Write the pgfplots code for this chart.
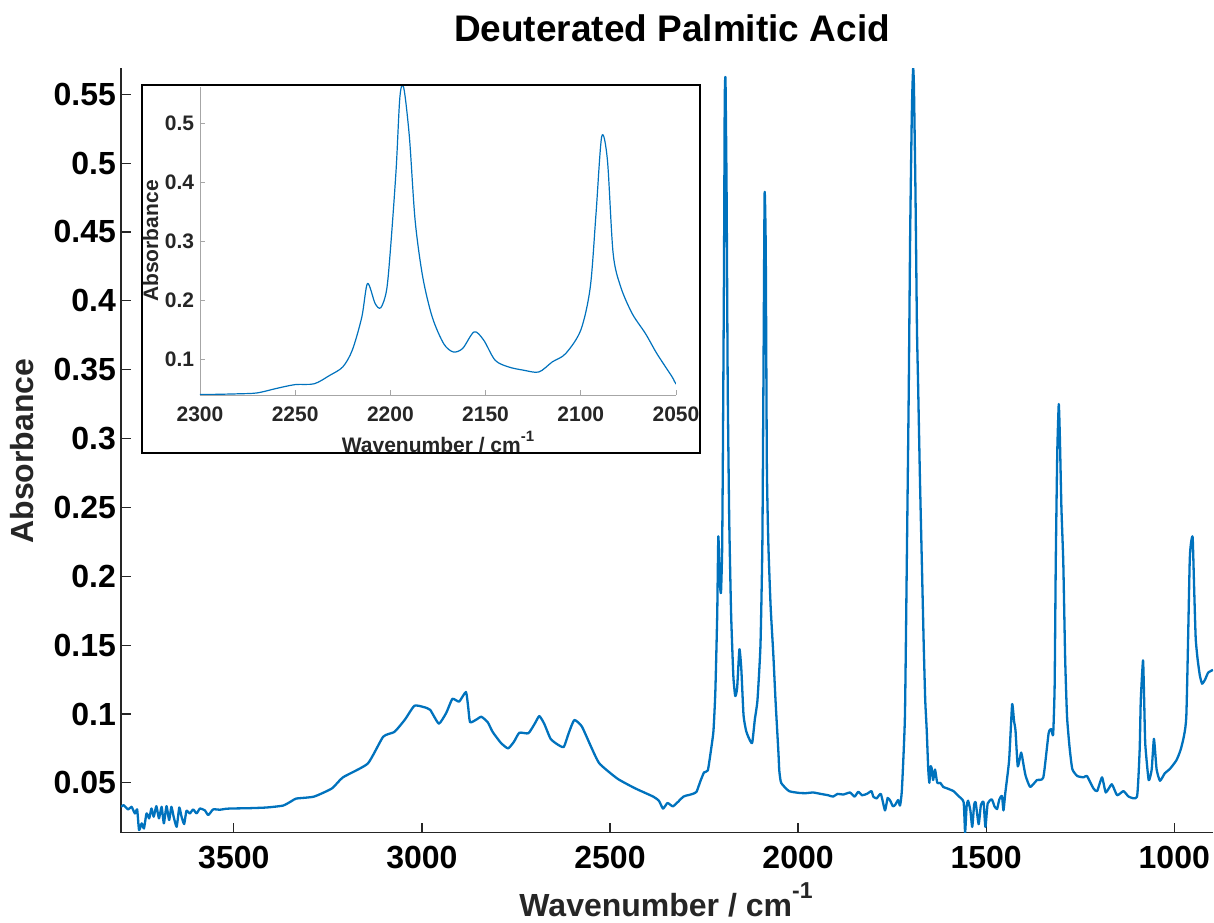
\documentclass[border=0pt]{standalone}
\usepackage{fontspec}
\setmainfont{Liberation Sans}
\usepackage{pgfplots}
\usepackage{pgfplotstable}
\pgfplotsset{compat=1.18}
\definecolor{mblue}{rgb}{0,0.447,0.741}
\definecolor{axgray}{rgb}{0.15,0.15,0.15}

% FTIR spectrum
\pgfplotstableread{
wn    ab
3800 0.0326
3793 0.0338
3781 0.0307
3772 0.0326
3763 0.0278
3757 0.0307
3752 0.0157
3745 0.0206
3739 0.0169
3732 0.0278
3725 0.0242
3719 0.0314
3713 0.0254
3706 0.0331
3699 0.0242
3692 0.0326
3686 0.0206
3679 0.0331
3672 0.0230
3666 0.0326
3660 0.0254
3652 0.0181
3645 0.0321
3639 0.0254
3632 0.0201
3626 0.0297
3617 0.0278
3608 0.0307
3599 0.0278
3590 0.0314
3577 0.0300
3568 0.0266
3555 0.0307
3537 0.0305
3520 0.0312
3502 0.0314
3460 0.0316
3413 0.0321
3369 0.0335
3345 0.0370
3334 0.0386
3287 0.0400
3239 0.0460
3210 0.0540
3144 0.0640
3103 0.0835
3073 0.0870
3045 0.0960
3020 0.1060
2995 0.1050
2978 0.1030
2955 0.0930
2935 0.1010
2919 0.1110
2901 0.1090
2883 0.1160
2877 0.1050
2872 0.0940
2855 0.0960
2842 0.0980
2825 0.0940
2812 0.0870
2790 0.0790
2771 0.0750
2755 0.0800
2741 0.0864
2717 0.0860
2700 0.0930
2688 0.0985
2675 0.0930
2658 0.0820
2640 0.0780
2623 0.0760
2610 0.0860
2595 0.0956
2575 0.0910
2550 0.0760
2528 0.0640
2480 0.0530
2433 0.0460
2385 0.0400
2370 0.0370
2359 0.0313
2347 0.0354
2332 0.0330
2305 0.0400
2290 0.0412
2280 0.0420
2270 0.0435
2260 0.0510
2250 0.0576
2240 0.0590
2232 0.0730
2225 0.0876
2220 0.1160
2215 0.1720
2212 0.2290
2208 0.1950
2205 0.1880
2202 0.2175
2200 0.2850
2197 0.4210
2195 0.5450
2193 0.5610
2190 0.4770
2187 0.3360
2183 0.2400
2178 0.1720
2172 0.1270
2167 0.1130
2162 0.1190
2156 0.1470
2151 0.1330
2145 0.0990
2138 0.0876
2130 0.0820
2122 0.0790
2115 0.0960
2108 0.1100
2100 0.1500
2095 0.2230
2092 0.3470
2089 0.4780
2086 0.4380
2083 0.2800
2079 0.2230
2073 0.1780
2066 0.1440
2060 0.1100
2052 0.0706
2050 0.0590
2045 0.0500
2024 0.0440
1997 0.0427
1980 0.0425
1960 0.0430
1940 0.0420
1920 0.0410
1907 0.0400
1895 0.0420
1880 0.0415
1862 0.0430
1850 0.0400
1840 0.0435
1830 0.0410
1817 0.0420
1805 0.0440
1800 0.0400
1791 0.0387
1780 0.0420
1769 0.0300
1762 0.0390
1755 0.0370
1748 0.0330
1742 0.0340
1734 0.0375
1729 0.0335
1724 0.0450
1716 0.0980
1711 0.2100
1706 0.3300
1702 0.4500
1698 0.5300
1696 0.5550
1694 0.5690
1692 0.5550
1688 0.4800
1684 0.3800
1681 0.3400
1676 0.2700
1671 0.2100
1666 0.1500
1662 0.1100
1658 0.0880
1654 0.0600
1651 0.0500
1648 0.0620
1645 0.0607
1641 0.0520
1636 0.0597
1630 0.0500
1622 0.0500
1614 0.0470
1604 0.0460
1587 0.0440
1574 0.0405
1560 0.0360
1556 0.0140
1552 0.0330
1548 0.0370
1542 0.0300
1537 0.0180
1532 0.0340
1528 0.0360
1520 0.0200
1514 0.0340
1507 0.0360
1502 0.0180
1496 0.0350
1485 0.0380
1478 0.0330
1471 0.0310
1465 0.0380
1458 0.0405
1454 0.0300
1449 0.0430
1439 0.0664
1431 0.1070
1426 0.0950
1422 0.0880
1416 0.0620
1407 0.0720
1400 0.0620
1395 0.0550
1383 0.0470
1365 0.0520
1348 0.0540
1334 0.0860
1327 0.0890
1322 0.0850
1318 0.1200
1315 0.2100
1311 0.2900
1307 0.3250
1304 0.3000
1300 0.2500
1295 0.2100
1290 0.1400
1285 0.0980
1278 0.0750
1271 0.0600
1258 0.0550
1241 0.0540
1232 0.0550
1215 0.0460
1205 0.0440
1192 0.0540
1182 0.0430
1166 0.0490
1152 0.0410
1135 0.0440
1121 0.0400
1099 0.0400
1092 0.0737
1089 0.1100
1083 0.1390
1080 0.1100
1077 0.0780
1068 0.0520
1060 0.0597
1054 0.0820
1047 0.0600
1038 0.0515
1025 0.0570
1012 0.0600
994 0.0665
981 0.0760
968 0.0980
959 0.2100
955 0.2250
951 0.2280
947 0.1900
943 0.1550
938 0.1400
932 0.1280
926 0.1220
918 0.1250
910 0.1300
897 0.1320
}\spec

\begin{document}
\begin{tikzpicture}[x=1pt,y=1pt]
\useasboundingbox (0,0) rectangle (607,461);

% main spectrum
\begin{axis}[
  at={(60.5pt,44.65pt)}, anchor=south west,
  width=546pt, height=382.3pt, scale only axis,
  x dir=reverse, xmin=897, xmax=3800,
  ymin=0.0138, ymax=0.569,
  axis lines*=left,
  axis line style={axgray, line width=0.6pt},
  tick style={axgray, line width=0.6pt},
  tick align=inside, major tick length=5pt,
  scaled ticks=false,
  xtick={1000,1500,2000,2500,3000,3500},
  xticklabels={1000,1500,2000,2500,3000,3500},
  ytick={0.05,0.1,0.15,0.2,0.25,0.3,0.35,0.4,0.45,0.5,0.55},
  yticklabels={0.05,0.1,0.15,0.2,0.25,0.3,0.35,0.4,0.45,0.5,0.55},
  ticklabel style={font=\fontsize{16}{19}\selectfont\bfseries},
  xticklabel style={yshift=-3.2pt},
  yticklabel style={xshift=1pt},
]
\addplot[mblue, line width=1.15pt, line join=round, smooth, tension=0.3] table[x=wn, y=ab] {\spec};
\end{axis}

\node[font=\fontsize{18.5}{22}\selectfont\bfseries, anchor=base] at (336,440) {Deuterated Palmitic Acid};
\node[font=\fontsize{16}{19}\selectfont\bfseries, text=axgray, rotate=90, anchor=base] at (16.5,235.5) {Absorbance};
\node[font=\fontsize{16}{19}\selectfont\bfseries, text=axgray, anchor=base] at (333,3)
  {Wavenumber / cm\raisebox{0.55em}{\fontsize{11.5}{12}\selectfont -1}};

% inset frame
\draw[black, line width=1pt, fill=white] (71.15,234.35) rectangle (350,418.5);

% inset: zoom on the C-D stretch region
\begin{axis}[
  at={(100pt,263.5pt)}, anchor=south west,
  width=238pt, height=154pt, scale only axis,
  x dir=reverse, xmin=2050, xmax=2300,
  ymin=0.040, ymax=0.562,
  axis lines*=left,
  axis line style={gray!70, line width=0.4pt},
  tick style={gray!70, line width=0.4pt},
  tick align=inside, major tick length=2.5pt,
  scaled ticks=false,
  xtick={2050,2100,2150,2200,2250,2300},
  xticklabels={2050,2100,2150,2200,2250,2300},
  ytick={0.1,0.2,0.3,0.4,0.5},
  yticklabels={0.1,0.2,0.3,0.4,0.5},
  ticklabel style={font=\fontsize{10.5}{12}\selectfont\bfseries, text=axgray},
  xticklabel style={yshift=-2.6pt},
  yticklabel style={xshift=0.6pt},
]
\addplot[mblue, line width=0.6pt, line join=round, smooth, tension=0.5] table[x=wn, y=ab] {\spec};
\end{axis}

\node[font=\fontsize{10.5}{12}\selectfont\bfseries, text=axgray, rotate=90, anchor=base] at (79,340.5) {Absorbance};
\node[font=\fontsize{10.5}{12}\selectfont\bfseries, text=axgray, anchor=base] at (219,235)
  {Wavenumber / cm\raisebox{0.5em}{\fontsize{7.5}{8}\selectfont -1}};
\end{tikzpicture}
\end{document}
